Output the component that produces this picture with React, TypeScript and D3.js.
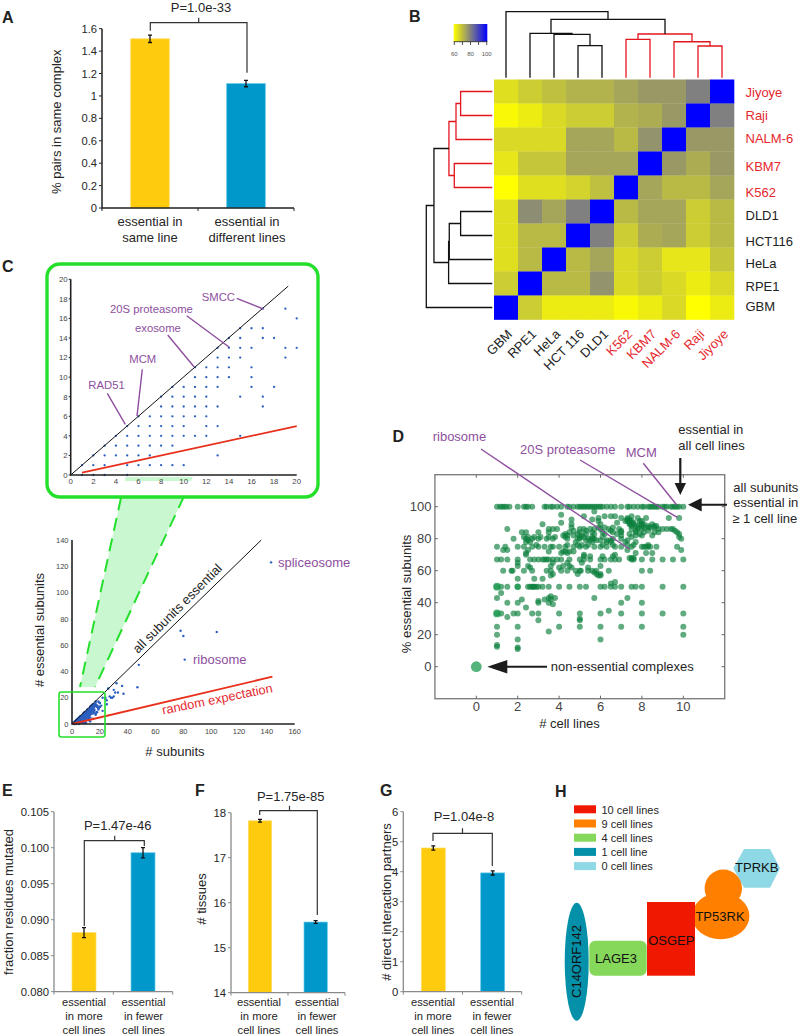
import React from "react";
import * as d3 from "d3";

const FONT = '"Liberation Sans", Arial, sans-serif';
const PURPLE = "#8e4f9e";
const RED = "#e5282e";
const YELLOW = "#ffcb0f";
const BLUE = "#0098cb";
const GREEN = "#24e02c";

// ---- Panel A
const aCategories = [["essential in", "same line"], ["essential in", "different lines"]];
const aValues = [1.51, 1.11];
const aErrors = [0.033, 0.028];
const aTicks = [0, 0.2, 0.4, 0.6, 0.8, 1, 1.2, 1.4, 1.6];

// ---- Panel B
const colNames = ["GBM", "RPE1", "HeLa", "HCT 116", "DLD1", "K562", "KBM7", "NALM-6", "Raji", "Jiyoye"];
const rowNames = ["Jiyoye", "Raji", "NALM-6", "KBM7", "K562", "DLD1", "HCT116", "HeLa", "RPE1", "GBM"];
const rowBaselines = [97, 120, 142.7, 171, 196.7, 220, 246, 267.7, 291, 311];
const redLabels = ["K562", "KBM7", "NALM-6", "Raji", "Jiyoye"];
const heat = [
  [65, 68, 70, 72, 72, 74, 76, 76, 80, 100],
  [61, 63, 66, 68, 68, 72, 73, 76, 100, 80],
  [66, 66, 66, 74, 74, 71, 77, 100, 76, 76],
  [64, 69, 69, 74, 74, 74, 100, 76, 73, 76],
  [60, 65, 65, 67, 70, 100, 74, 71, 71, 74],
  [65, 78, 74, 80, 100, 71, 74, 74, 68, 71],
  [65, 71, 71, 100, 80, 68, 73, 74, 68, 71],
  [65, 71, 100, 71, 74, 66, 68, 64, 64, 69],
  [68, 100, 71, 71, 77, 66, 68, 66, 63, 66],
  [100, 68, 63, 63, 63, 61, 63, 66, 60, 63],
];
type Tree = number | { h: number; a: Tree; b: Tree; red?: boolean };
const n = (h: number, a: Tree, b: Tree, red = false): Tree => ({ h, a, b, red });
const topTree: Tree = n(1, 0, n(0.884,
  n(0.672, 1, n(0.657, 2, n(0.485, 3, 4))),
  n(0.662, n(0.581, 5, 6, true), n(0.545, 7, n(0.48, 8, 9, true), true), true)));
const leftTree: Tree = n(1, n(0.884,
  n(0.657, n(0.55, n(0.48, 0, 1, true), 2, true), n(0.576, 3, 4, true), true),
  n(0.662, n(0.652, n(0.48, 5, 6), 7), 8)), 9);

// ---- Panel C
const insetEssential = [17, 16, 15, 14, 13, 12, 11, 10, 9, 8, 7, 6, 5, 4, 3, 2, 1, 0];
const insetSubunits = [
  [17, 19], [20], [15, 16, 17], [14, 15, 17, 18], [13, 14, 15, 16, 19, 20], [13, 14, 15, 19],
  [11, 12, 13, 14, 16], [11, 12, 13, 14, 16], [9, 10, 11, 12, 13, 16, 18], [8, 9, 10, 11, 12, 15, 17],
  [8, 9, 10, 11, 12, 13, 17], [6, 7, 8, 9, 10, 11, 12], [5, 6, 7, 8, 9, 10, 12, 13],
  [4, 5, 6, 7, 8, 9, 10, 11, 12, 15], [3, 4, 5, 6, 7, 8, 9], [2, 3, 4, 5, 6, 7, 13],
  [1, 2, 3, 5, 6, 7, 8, 9, 10], [1, 2, 3, 5],
];
const wideSubunits = [143, 78, 80, 104, 81, 48, 47, 22, 24, 25, 26, 28, 30, 32, 33, 36, 37, 27, 30, 24, 22, 25, 29, 31, 20, 21, 18, 19];
const wideEssential = [123, 71, 67, 70, 49, 45, 28, 10, 19, 15, 27, 20, 26, 31, 24, 29, 23, 21, 21, 20, 20, 18, 20, 24, 16, 14, 13, 11];
const clusterSubunits = [1, 17.8, 14.2];
const clusterEssential = [0.5, 17, 6.8];

// ---- Panel D
const dPct = [100, 97, 95, 94, 93, 92, 91, 90, 89, 88, 87, 86, 85, 84, 83, 82, 81, 80, 79, 78, 76, 75, 73, 72, 71, 70, 69, 68, 67, 65, 63, 62, 60, 59, 58, 57, 55, 53, 52, 50, 46, 44, 43, 42, 41, 40, 39, 37, 35, 33.3, 31, 30, 29, 25, 22, 20, 17, 13.5, 12.5, 12, 11];
const dLines = [
  [1, 1.15, 1.25, 1.35, 1.45, 1.6, 2, 2.3, 2.4, 2.5, 2.7, 3.3, 3.4, 3.6, 3.7, 3.9, 4.1, 4.4, 4.5, 4.7, 4.9, 5, 5.1, 5.2, 5.3, 5.4, 5.5, 5.6, 5.7, 5.8, 5.9, 6, 6.1, 6.3, 6.5, 6.7, 7, 7.3, 7.4, 7.6, 7.8, 8, 8.1, 8.3, 8.4, 8.5, 8.6, 8.7, 8.8, 9, 9.1, 9.2, 9.4, 9.5, 9.6, 9.7, 9.8, 10],
  [5.7], [4.1], [5.2, 6.2, 6.5, 6.7, 7.5], [5.9, 9.3, 9.8, 7, 7.3, 7.8, 8.2], [4.6, 5.6, 7.3, 7.4], [5.9, 7.2, 7.3, 7.4, 7.5, 7.9, 8],
  [4.1, 6.8, 7.4, 7.6], [3.2, 4.6, 6, 7.4, 7.5, 7.6, 7.9, 8, 8.1, 8.5], [7.5, 7.7, 8, 8.3, 8.6, 8.7], [4.6, 5.9, 6.2, 6.6, 7.8, 8.1, 8.3, 8.4, 8.6],
  [1.5, 3.5, 3.7, 3.9, 5, 5.2, 5.5, 5.7, 6, 6.4, 6.9, 7.5, 7.8, 8, 8.8, 9, 9.2, 9.4, 9.5], [4.7, 5.3, 6.5, 7, 7.7, 8.3, 9.6],
  [2.2, 2.4, 3, 3.5, 4.5, 5, 5.6, 6.1, 6.6, 7, 7.7, 8.1, 8.6, 8.8, 9.7], [4.3, 4.9, 5.3, 5.7, 6.2, 6.8, 7.4, 7.9, 9.8],
  [4.2, 4.4, 4.7, 5.1, 7, 7.7, 8, 8.5], [2.3, 2.5, 2.8, 3.1, 3.5, 3.8, 4.3, 5, 5.2, 5.6, 6.1, 7.5, 9.8],
  [1.8, 2.4, 2.7, 3, 3.4, 3.7, 4.4, 4.9, 5, 5.4, 5.6, 5.7, 6.6, 7, 9.9], [2.5, 5.3, 5.5, 5.8, 6, 6.3, 6.5, 7.3], [2.4, 2.6, 4.8, 5.6, 6.3, 6.5, 7.2, 7.7],
  [2.9, 4.4, 4.9, 5.1, 5.4, 6.1, 6.6, 7.3, 7.6, 8.3],
  [1, 1.4, 2, 2.3, 2.7, 3, 3.3, 3.6, 3.7, 4, 4.3, 4.7, 5, 5.3, 5.7, 6, 6.3, 6.7, 7, 7.5, 8, 8.1, 8.2, 8.3, 8.4, 8.7, 9.7],
  [1.3, 1.5, 2.5, 7.3, 9.9], [3.5, 4.2, 4.3, 4.5, 4.7], [2.4, 4.1, 4.4, 7.7, 8.2, 8.5], [2.4, 5.2, 6.7], [5.2, 5.5, 6.1, 6.6], [7.4, 7.5, 7.6],
  [1, 1.2, 1.5, 2, 2.6, 2.8, 3, 3.2, 3.3, 3.4, 3.5, 3.7, 3.9, 4.1, 4.5, 5, 5.2, 5.5, 6, 6.2, 6.5, 6.7, 6.9, 7.5, 7.6, 8, 8.5, 9, 9.5, 10],
  [2, 3.7, 4.4, 5.1], [2, 2.5, 3.6, 4.2, 4.5, 6], [2.6, 4, 4.6, 5.4],
  [1.3, 1.7, 1.75, 2.3, 2.7, 3.4, 3.6, 4.1, 4.4, 4.8, 5, 5.05, 5.4, 5.6, 5.8, 6.4, 8, 8.4], [5.7], [3.7, 4.9, 5.8, 6], [3.6, 5.9, 6], [2, 2.8, 3.2], [6.7], [6.5],
  [1, 1.2, 1.5, 2, 2.5, 2.6, 2.7, 2.75, 2.8, 2.9, 3, 3.2, 3.5, 4, 4.5, 5, 5.3, 6, 6.2, 6.5, 6.7, 7, 7.5, 7.7, 8, 9, 10],
  [1.2], [3.6], [1, 3.5, 3.8, 5.7, 7.3], [2.2, 3.3, 3.6], [3], [1.5, 2, 3, 3.5, 7, 8], [3.7], [2.4], [6.4],
  [1, 1.2, 1.8, 2, 2.7, 3, 4, 5, 6, 7, 8, 9, 10], [1.5], [5], [3, 5], [1, 2, 4, 5, 6, 7, 8, 10], [3.5], [1, 10], [2, 6], [1], [1], [2], [2],
];
const dLargeLines = [0, 1, 1, 2];
const dLargePct = [0, 50, 33.3, 50];
const dLargeRadius = [5.4, 3.9, 3.9, 3.2];

// ---- Panels E, F, G
const moreFewer = [["essential", "in more", "cell lines"], ["essential", "in fewer", "cell lines"]];
const eValues = [0.0882, 0.0993];
const eErrors = [0.0007, 0.0007];
const eTicks = [0.08, 0.085, 0.09, 0.095, 0.1, 0.105];
const fValues = [17.82, 15.57];
const fErrors = [0.03, 0.03];
const fTicks = [14, 15, 16, 17, 18];
const gValues = [4.79, 3.96];
const gErrors = [0.07, 0.07];
const gTicks = [0, 1, 2, 3, 4, 5, 6];

// ---- Panel H
const legendLabels = ["10 cell lines", "9 cell lines", "4 cell lines", "1 cell line", "0 cell lines"];
const legendColors = ["#f01800", "#ff8000", "#85d85a", "#0490a8", "#8fd8e5"];

function T(p: any) {
  return <text fontFamily={FONT} fill="#262626" {...p} />;
}

function BarPanel(props: any) {
  const { x0, x1, x1b, yTop, yBot, dom, ticks, fmt, values, errors, barA, barB, labels, labelY, labelSize, labelDy, axis, tickSize, ylabel, ylabelX, ylabelY, bracket, pText, axisW } = props;
  const y = d3.scaleLinear().domain(dom).range([yBot, yTop]);
  const band = [barA, barB];
  return (
    <g>
      {values.map((v: number, i: number) => (
        <rect key={i} x={band[i][0]} width={band[i][1] - band[i][0]} y={y(v)} height={yBot - y(v)}
          fill={i ? BLUE : YELLOW} stroke={i ? "#63c9ea" : "#ffdc66"} strokeWidth={0.7} />
      ))}
      {values.map((v: number, i: number) => {
        const c = (band[i][0] + band[i][1]) / 2;
        return (
          <path key={i} d={`M${c - 2},${y(v + errors[i])}H${c + 2}M${c},${y(v + errors[i])}V${y(v - errors[i])}M${c - 2},${y(v - errors[i])}H${c + 2}`}
            stroke="#111" strokeWidth={1.3} fill="none" />
        );
      })}
      <path d={`M${x0},${yTop}V${yBot}H${x1}`} fill="none" stroke={axis} strokeWidth={axisW} />
      {ticks.map((t: number) => (
        <g key={t}>
          <line x1={x0 - 3} x2={x0} y1={y(t)} y2={y(t)} stroke={axis} strokeWidth={1} />
          <T x={x0 - 5} y={y(t) + tickSize * 0.36} fontSize={tickSize} textAnchor="end">{fmt(t)}</T>
        </g>
      ))}
      {[x0, x1b, x1].map((xx: number) => <line key={xx} x1={xx} x2={xx} y1={yBot} y2={yBot + 3} stroke={axis} strokeWidth={1} />)}
      {labels.map((ls: string[], i: number) => ls.map((l: string, j: number) => (
        <T key={j} x={i ? props.labelXB : props.labelXA} y={labelY + j * labelDy} fontSize={labelSize} textAnchor="middle">{l}</T>
      )))}
      <T transform={`translate(${ylabelX},${ylabelY}) rotate(-90)`} fontSize={13} textAnchor="middle">{ylabel}</T>
      <path d={`M${bracket.xa},${bracket.ya}V${bracket.top}H${bracket.xb}V${bracket.yb}M${bracket.xm},${bracket.top}V${bracket.top - 5}`}
        fill="none" stroke="#333" strokeWidth={1.2} />
      <T x={bracket.tx} y={bracket.ty} fontSize={13} textAnchor="middle">{pText}</T>
    </g>
  );
}

function dendro(tree: Tree, pos: (i: number) => number, hs: d3.ScaleLinear<number, number>, vertical: boolean) {
  const segs: { d: string; red: boolean }[] = [];
  const walk = (t: Tree): { p: number; h: number } => {
    if (typeof t === "number") return { p: pos(t), h: 0 };
    const a = walk(t.a);
    const b = walk(t.b);
    const d = vertical
      ? `M${a.p},${hs(a.h)}V${hs(t.h)}H${b.p}V${hs(b.h)}`
      : `M${hs(a.h)},${a.p}H${hs(t.h)}V${b.p}H${hs(b.h)}`;
    segs.push({ d, red: !!t.red });
    return { p: (a.p + b.p) / 2, h: t.h };
  };
  walk(tree);
  return segs;
}

function PanelB() {
  const xb = d3.scaleBand<number>().domain(d3.range(10)).range([494, 734]);
  const yb = d3.scaleBand<number>().domain(d3.range(10)).range([79.5, 319.5]);
  const color = d3.scaleLinear<string>().domain([60, 80, 100]).range(["#ffff00", "#808080", "#0000ff"]);
  const hTop = d3.scaleLinear().domain([0, 1]).range([77.7, 11.7]);
  const hLeft = d3.scaleLinear().domain([0, 1]).range([492.3, 426.3]);
  const topSegs = dendro(topTree, (i) => xb(i)! + 12, hTop, true);
  const leftSegs = dendro(leftTree, (i) => yb(i)! + 12, hLeft, false);
  const key = d3.scaleLinear().domain([60, 100]).range([454.3, 486.7]);
  return (
    <g>
      <defs>
        <linearGradient id="kg"><stop offset="0" stopColor="#ffff00" /><stop offset="0.5" stopColor="#808080" /><stop offset="1" stopColor="#0000ff" /></linearGradient>
      </defs>
      <rect x={453.7} y={24} width={33.6} height={17.7} fill="url(#kg)" />
      <line x1={453.7} x2={487.3} y1={41.7} y2={41.7} stroke="#222" strokeWidth={0.8} />
      {[60, 70, 80, 90, 100].map((t) => <line key={t} x1={key(t)} x2={key(t)} y1={41.7} y2={45} stroke="#222" strokeWidth={0.8} />)}
      {[60, 80, 100].map((t) => <T key={t} x={key(t)} y={55.5} fontSize={6} fill="#555" textAnchor="middle">{t}</T>)}
      {[...topSegs, ...leftSegs].map((s, i) => <path key={i} d={s.d} fill="none" stroke={s.red ? "#e3161f" : "#111"} strokeWidth={1.3} />)}
      {heat.map((row, r) => row.map((v, c) => (
        <rect key={`${r}-${c}`} x={xb(c)} y={yb(r)} width={xb.bandwidth() + 0.3} height={yb.bandwidth() + 0.3} fill={color(v)} />
      )))}
      {rowNames.map((name, i) => (
        <T key={name} x={745.5} y={rowBaselines[i]} fontSize={13} fill={redLabels.includes(name) ? RED : "#222"}>{name}</T>
      ))}
      {colNames.map((name, i) => (
        <T key={name} transform={`translate(${xb(i)! + 19},${335}) rotate(-45)`} fontSize={13} textAnchor="end"
          fill={redLabels.includes(name) ? RED : "#222"}>{name}</T>
      ))}
    </g>
  );
}

function PanelC() {
  const ix = d3.scaleLinear().domain([0, 20]).range([70.7, 296.7]);
  const iy = d3.scaleLinear().domain([0, 20]).range([475, 279.3]);
  const wx = d3.scaleLinear().domain([0, 160]).range([72, 294.7]);
  const wy = d3.scaleLinear().domain([0, 140]).range([724, 540]);
  const insetTicks = d3.range(0, 21, 2);
  const insetPts = insetEssential.flatMap((e, i) => insetSubunits[i].map((s) => [s, e]));
  const insetLabels = [
    ["SMCC", 201.7, 301, 236.7, 298.3, 263.3, 309],
    ["20S proteasome", 110, 313.3, 186.7, 315.7, 229.3, 347.3],
    ["exosome", 135, 331.7, 167.7, 335, 194, 366.7],
    ["MCM", 129.3, 363.3, 142.3, 369.3, 137, 416],
    ["RAD51", 88.3, 389, 107.3, 393.3, 125.3, 424.3],
  ] as [string, number, number, number, number, number, number][];
  const cluster = clusterSubunits.map((s, i) => `${wx(s)},${wy(clusterEssential[i])}`).join(" ");
  return (
    <g>
      <polygon points="125.5,477 193,477 95,687 80,687" fill="#c9f7d0" />
      <line x1={125.5} y1={477} x2={80} y2={687} stroke={GREEN} strokeWidth={2} strokeDasharray="13 8" />
      <line x1={193} y1={477} x2={95} y2={687} stroke={GREEN} strokeWidth={2} strokeDasharray="13 8" />
      <rect x={47} y={264} width={271} height={233} rx={13} fill="white" stroke={GREEN} strokeWidth={3.4} />
      <polygon points="125.5,477 193,477 191,481 124.6,481" fill="#c9f7d0" />
      {insetPts.map(([s, e], i) => <circle key={i} cx={ix(s)} cy={iy(e)} r={1.15} fill="#2a5fbf" />)}
      <line x1={ix(0)} y1={iy(0)} x2={ix(19.25)} y2={iy(19.3)} stroke="#111" strokeWidth={1} />
      <line x1={ix(1)} y1={iy(0.25)} x2={ix(20)} y2={iy(5)} stroke="#e8301c" strokeWidth={1.8} />
      <path d={`M${ix(0)},${iy(20)}V${iy(0)}H${ix(20)}`} fill="none" stroke="#222" strokeWidth={1.6} />
      {insetTicks.map((t) => (
        <g key={t}>
          <line x1={ix(0) - 2} x2={ix(0)} y1={iy(t)} y2={iy(t)} stroke="#222" />
          <T x={ix(0) - 3} y={iy(t) + 2.8} fontSize={7.8} textAnchor="end" fill="#444">{t}</T>
          <T x={ix(t)} y={484} fontSize={7.8} textAnchor="middle" fill="#444">{t}</T>
        </g>
      ))}
      {insetLabels.map(([label, tx, ty, a, b, c, d]) => (
        <g key={label}>
          <T x={tx} y={ty} fontSize={11.3} fill={PURPLE}>{label}</T>
          <line x1={a} y1={b} x2={c} y2={d} stroke={PURPLE} strokeWidth={1.4} />
        </g>
      ))}

      {insetPts.map(([s, e], i) => <circle key={i} cx={wx(s)} cy={wy(e)} r={1.3} fill="#2a5fbf" />)}
      {wideSubunits.map((s, i) => <circle key={i} cx={wx(s)} cy={wy(wideEssential[i])} r={1.2} fill="#2a5fbf" />)}
      <polygon points={cluster} fill="#2a5fbf" />
      <line x1={wx(0)} y1={wy(0)} x2={wx(136)} y2={wy(140)} stroke="#111" strokeWidth={1} />
      <line x1={wx(0)} y1={wy(0)} x2={wx(144)} y2={wy(36)} stroke="#e8301c" strokeWidth={1.8} />
      <path d={`M${wx(0)},${wy(140)}V${wy(0)}H${wx(160)}`} fill="none" stroke="#222" strokeWidth={1.6} />
      {d3.range(0, 141, 20).map((t) => (
        <T key={t} x={68.5} y={wy(t) + 2.7} fontSize={7.5} textAnchor="end" fill="#444">{t}</T>
      ))}
      {d3.range(0, 161, 20).map((t) => (
        <T key={t} x={wx(t)} y={733.5} fontSize={7.5} textAnchor="middle" fill="#444">{t}</T>
      ))}
      <rect x={59} y={692} width={46} height={45} rx={2.5} fill="none" stroke={GREEN} strokeWidth={1.6} />
      <T x={175} y={756} fontSize={13} textAnchor="middle">{"# subunits"}</T>
      <T transform="translate(44,630) rotate(-90)" fontSize={13} textAnchor="middle">{"# essential subunits"}</T>
      <T transform="translate(138,654) rotate(-45)" fontSize={13}>all subunits essential</T>
      <T transform="translate(163,714.5) rotate(-11.5)" fontSize={12.8} fill={RED}>random expectation</T>
      <T x={278} y={567} fontSize={13} fill={PURPLE}>spliceosome</T>
      <T x={193} y={664} fontSize={13} fill={PURPLE}>ribosome</T>
    </g>
  );
}

function PanelD() {
  const x = d3.scaleLinear().domain([-2, 12]).range([434.9, 724.7]);
  const y = d3.scaleLinear().domain([-20, 120]).range([698.7, 474.7]);
  const pts = dPct.flatMap((p, i) => dLines[i].map((l) => [l, p]));
  const tk = "#666";
  const arrow = (p: string) => <path d={p} fill="#1c1c1c" stroke="none" />;
  return (
    <g>
      {pts.map(([l, p], i) => <circle key={i} cx={x(l)} cy={y(p)} r={3} fill="#0a7f3c" fillOpacity={0.65} />)}
      {dLargeLines.map((l, i) => <circle key={i} cx={x(l)} cy={y(dLargePct[i])} r={dLargeRadius[i]} fill="#1c9a50" fillOpacity={0.75} />)}
      <rect x={x(-2)} y={y(120)} width={x(12) - x(-2)} height={y(-20) - y(120)} fill="none" stroke="#7f7f7f" strokeWidth={1.4} />
      {d3.range(0, 11, 2).map((t) => (
        <g key={t}>
          <line x1={x(t)} x2={x(t)} y1={y(-20)} y2={y(-20) - 3} stroke={tk} />
          <line x1={x(t)} x2={x(t)} y1={y(120)} y2={y(120) + 3} stroke={tk} />
          <T x={x(t)} y={710.5} fontSize={13} fill="#444" textAnchor="middle">{t}</T>
        </g>
      ))}
      {d3.range(0, 101, 20).map((t) => (
        <g key={t}>
          <line x1={x(-2)} x2={x(-2) + 3} y1={y(t)} y2={y(t)} stroke={tk} />
          <line x1={x(12)} x2={x(12) - 3} y1={y(t)} y2={y(t)} stroke={tk} />
          <T x={431.5} y={y(t) + 4.6} fontSize={13} fill="#444" textAnchor="end">{t}</T>
        </g>
      ))}
      <T x={569.5} y={728} fontSize={13} textAnchor="middle">{"# cell lines"}</T>
      <T transform="translate(410.5,594) rotate(-90)" fontSize={13} textAnchor="middle">% essential subunits</T>
      <T x={432.7} y={440.7} fontSize={13} fill={PURPLE}>ribosome</T>
      <T x={520} y={454} fontSize={13} fill={PURPLE}>20S proteasome</T>
      <T x={625.7} y={457.3} fontSize={13} fill={PURPLE}>MCM</T>
      <line x1={481} y1={449} x2={629.3} y2={549} stroke={PURPLE} strokeWidth={1.4} />
      <line x1={580} y1={460} x2={677.3} y2={517.3} stroke={PURPLE} strokeWidth={1.4} />
      <line x1={643.3} y1={463.3} x2={676.7} y2={505} stroke={PURPLE} strokeWidth={1.4} />
      <T x={678.3} y={434.3} fontSize={13}>essential in</T>
      <T x={678.3} y={450} fontSize={13}>all cell lines</T>
      <T x={733.3} y={491.7} fontSize={13}>all subunits</T>
      <T x={733.3} y={507.3} fontSize={13}>essential in</T>
      <T x={732.3} y={523.3} fontSize={13}>≥ 1 cell line</T>
      <T x={550.7} y={670.7} fontSize={13}>non-essential complexes</T>
      {arrow("M679.2,458H681.4V483H686L680.3,495L674.6,483H679.2Z")}
      {arrow("M727,503.7V505.7H701.7V511.4L688,504.7L701.7,498V503.7Z")}
      {arrow("M547,665.7V667.7H507.3V673.4L487.3,666.7L507.3,660V665.7Z")}
    </g>
  );
}

function PanelH() {
  return (
    <g>
      {legendLabels.map((l, i) => (
        <g key={l}>
          <rect x={574} y={805.3 + i * 14.2} width={22} height={8} fill={legendColors[i]} />
          <T x={601.5} y={813.5 + i * 14.2} fontSize={11}>{l}</T>
        </g>
      ))}
      <polygon points="733.3,868.3 744,849 770,849 780,868.3 770,887.7 744,887.7" fill={legendColors[4]} />
      <ellipse cx={720.7} cy={916} rx={28.7} ry={23.3} fill={legendColors[1]} />
      <circle cx={723.3} cy={888.3} r={18.7} fill={legendColors[1]} />
      <ellipse cx={576.7} cy={961.7} rx={12} ry={59} fill={legendColors[3]} />
      <rect x={589.3} y={940.7} width={57.4} height={35} rx={6} fill={legendColors[2]} />
      <rect x={647} y={902} width={48} height={73.7} fill={legendColors[0]} />
      <T transform="translate(580.5,961.5) rotate(-90)" fontSize={13} textAnchor="middle" fill="#111">C14ORF142</T>
      <T x={616} y={962.7} fontSize={13} textAnchor="middle" fill="#111">LAGE3</T>
      <T x={671.3} y={945} fontSize={13} textAnchor="middle" fill="#111">OSGEP</T>
      <T x={720} y={921} fontSize={13} textAnchor="middle" fill="#111">TP53RK</T>
      <T x={756.7} y={871.7} fontSize={13} textAnchor="middle" fill="#111">TPRKB</T>
    </g>
  );
}

const plain = (d: number) => String(d);

export default function App() {
  return (
    <svg width={800} height={1036} viewBox="0 0 800 1036" style={{ position: "absolute", left: 0, top: 0, background: "white" }}>
      {([["A", 2, 23], ["B", 409, 22], ["C", 2, 272], ["D", 392.5, 442], ["E", 2, 796], ["F", 195, 796], ["G", 380, 796], ["H", 555, 797]] as [string, number, number][]).map(([l, x, y]) => (
        <T key={l} x={x} y={y} fontSize={16} fontWeight="bold" fill="#222">{l}</T>
      ))}
      <BarPanel x0={102} x1={294} x1b={198} yTop={28.7} yBot={208} dom={[0, 1.6]} ticks={aTicks} fmt={plain}
        values={aValues} errors={aErrors} barA={[130.7, 169.3]} barB={[226.7, 265.3]}
        labels={aCategories} labelXA={150} labelXB={247} labelY={225.7} labelDy={16} labelSize={13}
        axis="#222" axisW={1.5} tickSize={11.2} ylabel="% pairs in same complex" ylabelX={61} ylabelY={121.7}
        pText="P=1.0e-33" bracket={{ xa: 150.3, xb: 247, ya: 30.7, yb: 72.7, top: 22.7, xm: 198.7, tx: 201, ty: 11.5 }} />
      <PanelB />
      <PanelC />
      <PanelD />
      <BarPanel x0={54} x1={172.7} x1b={113.3} yTop={811.7} yBot={991.7} dom={[0.08, 0.105]} ticks={eTicks} fmt={d3.format(".3f")}
        values={eValues} errors={eErrors} barA={[72, 96]} barB={[131, 155]}
        labels={moreFewer} labelXA={84} labelXB={143.5} labelY={1006} labelDy={14} labelSize={11.2}
        axis="#8a8a8a" axisW={1.3} tickSize={11.3} ylabel="fraction residues mutated" ylabelX={13} ylabelY={902}
        pText="P=1.47e-46" bracket={{ xa: 84.3, xb: 144.3, ya: 926, yb: 846, top: 840.7, xm: 114.7, tx: 117.7, ty: 830 }} />
      <BarPanel x0={231} x1={345} x1b={288} yTop={812.7} yBot={992.7} dom={[14, 18]} ticks={fTicks} fmt={plain}
        values={fValues} errors={fErrors} barA={[248.3, 271.7]} barB={[304, 327.3]}
        labels={moreFewer} labelXA={259} labelXB={317} labelY={1006} labelDy={14} labelSize={11.2}
        axis="#8a8a8a" axisW={1.3} tickSize={11.3} ylabel="# tissues" ylabelX={206} ylabelY={899}
        pText="P=1.75e-85" bracket={{ xa: 259.7, xb: 317.3, ya: 815, yb: 915, top: 810.7, xm: 289.5, tx: 290.7, ty: 801 }} />
      <BarPanel x0={403.3} x1={521.7} x1b={462.5} yTop={811.7} yBot={991.7} dom={[0, 6]} ticks={gTicks} fmt={plain}
        values={gValues} errors={gErrors} barA={[421.3, 445.3]} barB={[480.7, 504.7]}
        labels={moreFewer} labelXA={433} labelXB={492} labelY={1006} labelDy={14} labelSize={11.2}
        axis="#8a8a8a" axisW={1.3} tickSize={11.3} ylabel="# direct interaction partners" ylabelX={391} ylabelY={902}
        pText="P=1.04e-8" bracket={{ xa: 433, xb: 492.3, ya: 841, yb: 866, top: 833.3, xm: 462.5, tx: 464, ty: 821 }} />
      <PanelH />
    </svg>
  );
}
